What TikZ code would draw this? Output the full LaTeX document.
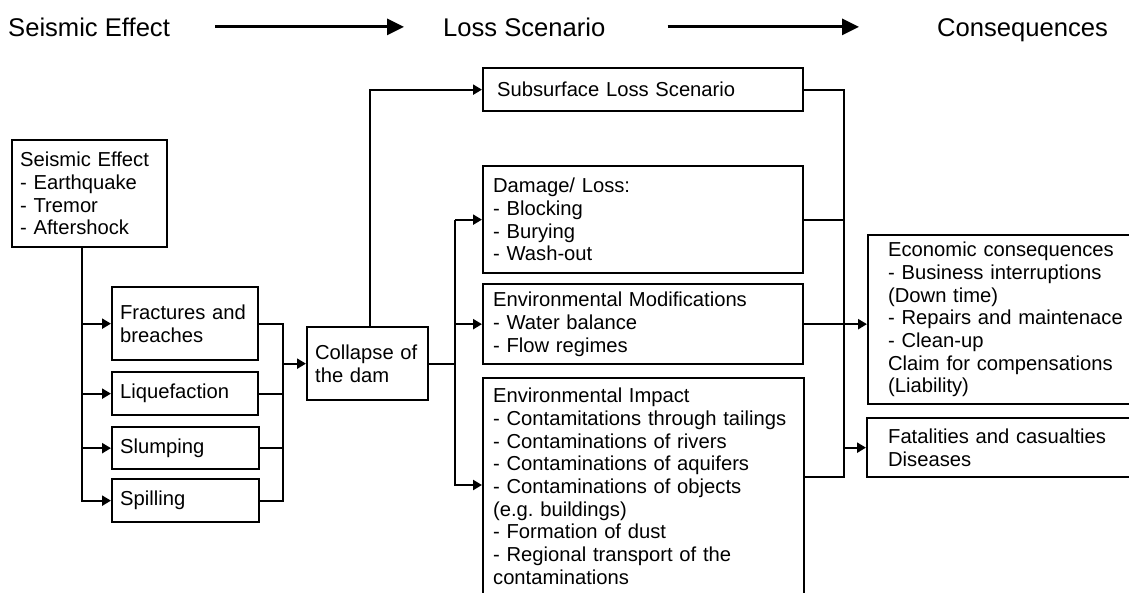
\documentclass[tikz,border=0pt]{standalone}
\usepackage{fontspec}
\setmainfont{Liberation Sans}
\usetikzlibrary{arrows.meta}
\newcommand\boxfont{\fontsize{20.2}{22.7}\selectfont}
\newcommand\headfont{\fontsize{25.6}{30}\selectfont}
\begin{document}
\begin{tikzpicture}[x=1pt,y=-1pt,
  box/.style={draw, line width=2.3pt, anchor=north west, align=left, font=\boxfont, inner ysep=0pt},
  conn/.style={line width=2.3pt},
  arr/.style={conn, -{Triangle[length=9pt,width=10pt]}},
  harr/.style={line width=3.2pt, -{Triangle[length=17pt,width=16pt]}},
  head/.style={anchor=base west, font=\headfont, inner sep=0pt}]
\useasboundingbox[fill=white] (0,0) rectangle (1129,592);

% header
\node[head] (h1) at (8,36) {Seismic Effect};
\node[head] (h2) at (443,36) {Loss Scenario};
\node[head] (h3) at (937,36) {Consequences};
\draw[harr] ([xshift=45pt]h1.east) -- ([xshift=-39pt]h2.west);
\draw[harr] ([xshift=62pt]h2.east) -- ([xshift=-78pt]h3.west |- h2.east);

% boxes
\node[box, inner xsep=8pt, text width=139pt, minimum width=155pt, minimum height=107pt] (seis) at (11,139)
  {Seismic Effect\\- Earthquake\\- Tremor\\- Aftershock};
\node[box, inner xsep=8pt, text width=130pt, minimum width=146pt, minimum height=73pt] (frac) at (111,286)
  {Fractures and\\breaches};
\node[box, inner xsep=8pt, text width=130pt, minimum width=146pt, minimum height=43pt] (liq) at (111,371)
  {Liquefaction};
\node[box, inner xsep=8pt, text width=131pt, minimum width=147pt, minimum height=42pt] (slump) at (111,426)
  {Slumping};
\node[box, inner xsep=8pt, text width=131pt, minimum width=147pt, minimum height=43pt] (spill) at (111,478)
  {Spilling};
\node[box, inner xsep=8pt, text width=105pt, minimum width=121pt, minimum height=73pt] (collapse) at (306,326)
  {Collapse of\\the dam};
\node[box, inner xsep=14pt, text width=292pt, minimum width=320pt, minimum height=43pt] (sub) at (482,67)
  {Subsurface Loss Scenario};
\node[box, inner xsep=10pt, text width=300pt, minimum width=320pt, minimum height=107pt] (dmg) at (482,165)
  {Damage/ Loss:\\- Blocking\\- Burying\\- Wash-out};
\node[box, inner xsep=10pt, text width=300pt, minimum width=320pt, minimum height=80pt] (envmod) at (482,283)
  {Environmental Modifications\\- Water balance\\- Flow regimes};
\node[box, inner xsep=10pt, inner ysep=10pt, text width=301pt, minimum width=321pt] (envimp) at (482,377)
  {Environmental Impact\\- Contamitations through tailings\\- Contaminations of rivers\\- Contaminations of aquifers\\- Contaminations of objects\\(e.g.\ buildings)\\- Formation of dust\\- Regional transport of the\\contaminations};
\node[box, inner xsep=20pt, text width=250pt, minimum width=290pt, minimum height=169pt] (econ) at (867,234)
  {Economic consequences\\- Business interruptions\\(Down time)\\- Repairs and maintenace\\- Clean-up\\Claim for compensations\\(Liability)};
\node[box, inner xsep=21pt, text width=248pt, minimum width=290pt, minimum height=59pt] (fatal) at (866,417)
  {Fatalities and casualties\\Diseases};

% left bus
\coordinate (b1) at (82,0);
\draw[arr] (b1 |- seis.south) |- (spill.west);
\draw[arr] (b1 |- frac.west) -- (frac.west);
\draw[arr] (b1 |- liq.west) -- (liq.west);
\draw[arr] (b1 |- slump.west) -- (slump.west);

% collect to collapse
\coordinate (b2) at (283,0);
\draw[conn] (frac.east) -- (b2 |- frac.east) -- (b2 |- spill.east) -- (spill.east);
\draw[conn] (liq.east) -- (b2 |- liq.east);
\draw[conn] (slump.east) -- (b2 |- slump.east);
\draw[arr] (b2 |- collapse.west) -- (collapse.west);

% collapse to loss scenarios
\draw[arr] ([xshift=2pt]collapse.north) |- (sub.west);
\coordinate (b3) at (455,0);
\draw[conn] (collapse.east) -- (b3 |- collapse.east);
\draw[arr] (b3 |- dmg.west) -- (dmg.west);
\draw[arr] (b3 |- envmod.west) -- (envmod.west);
\coordinate (ei) at ([yshift=-108pt]envimp.north west);
\draw[arr] (b3 |- dmg.west) |- (ei);

% loss scenarios to consequences
\coordinate (eo) at ([yshift=-100pt]envimp.north east);
\coordinate (b4) at (844,0);
\draw[conn] (sub.east) -- (b4 |- sub.east) -- (b4 |- eo) -- (eo);
\draw[conn] (dmg.east) -- (b4 |- dmg.east);
\draw[arr] (envmod.east) -- (econ.west |- envmod.east);
\draw[arr] (b4 |- fatal.west) -- (fatal.west);
\end{tikzpicture}
\end{document}
